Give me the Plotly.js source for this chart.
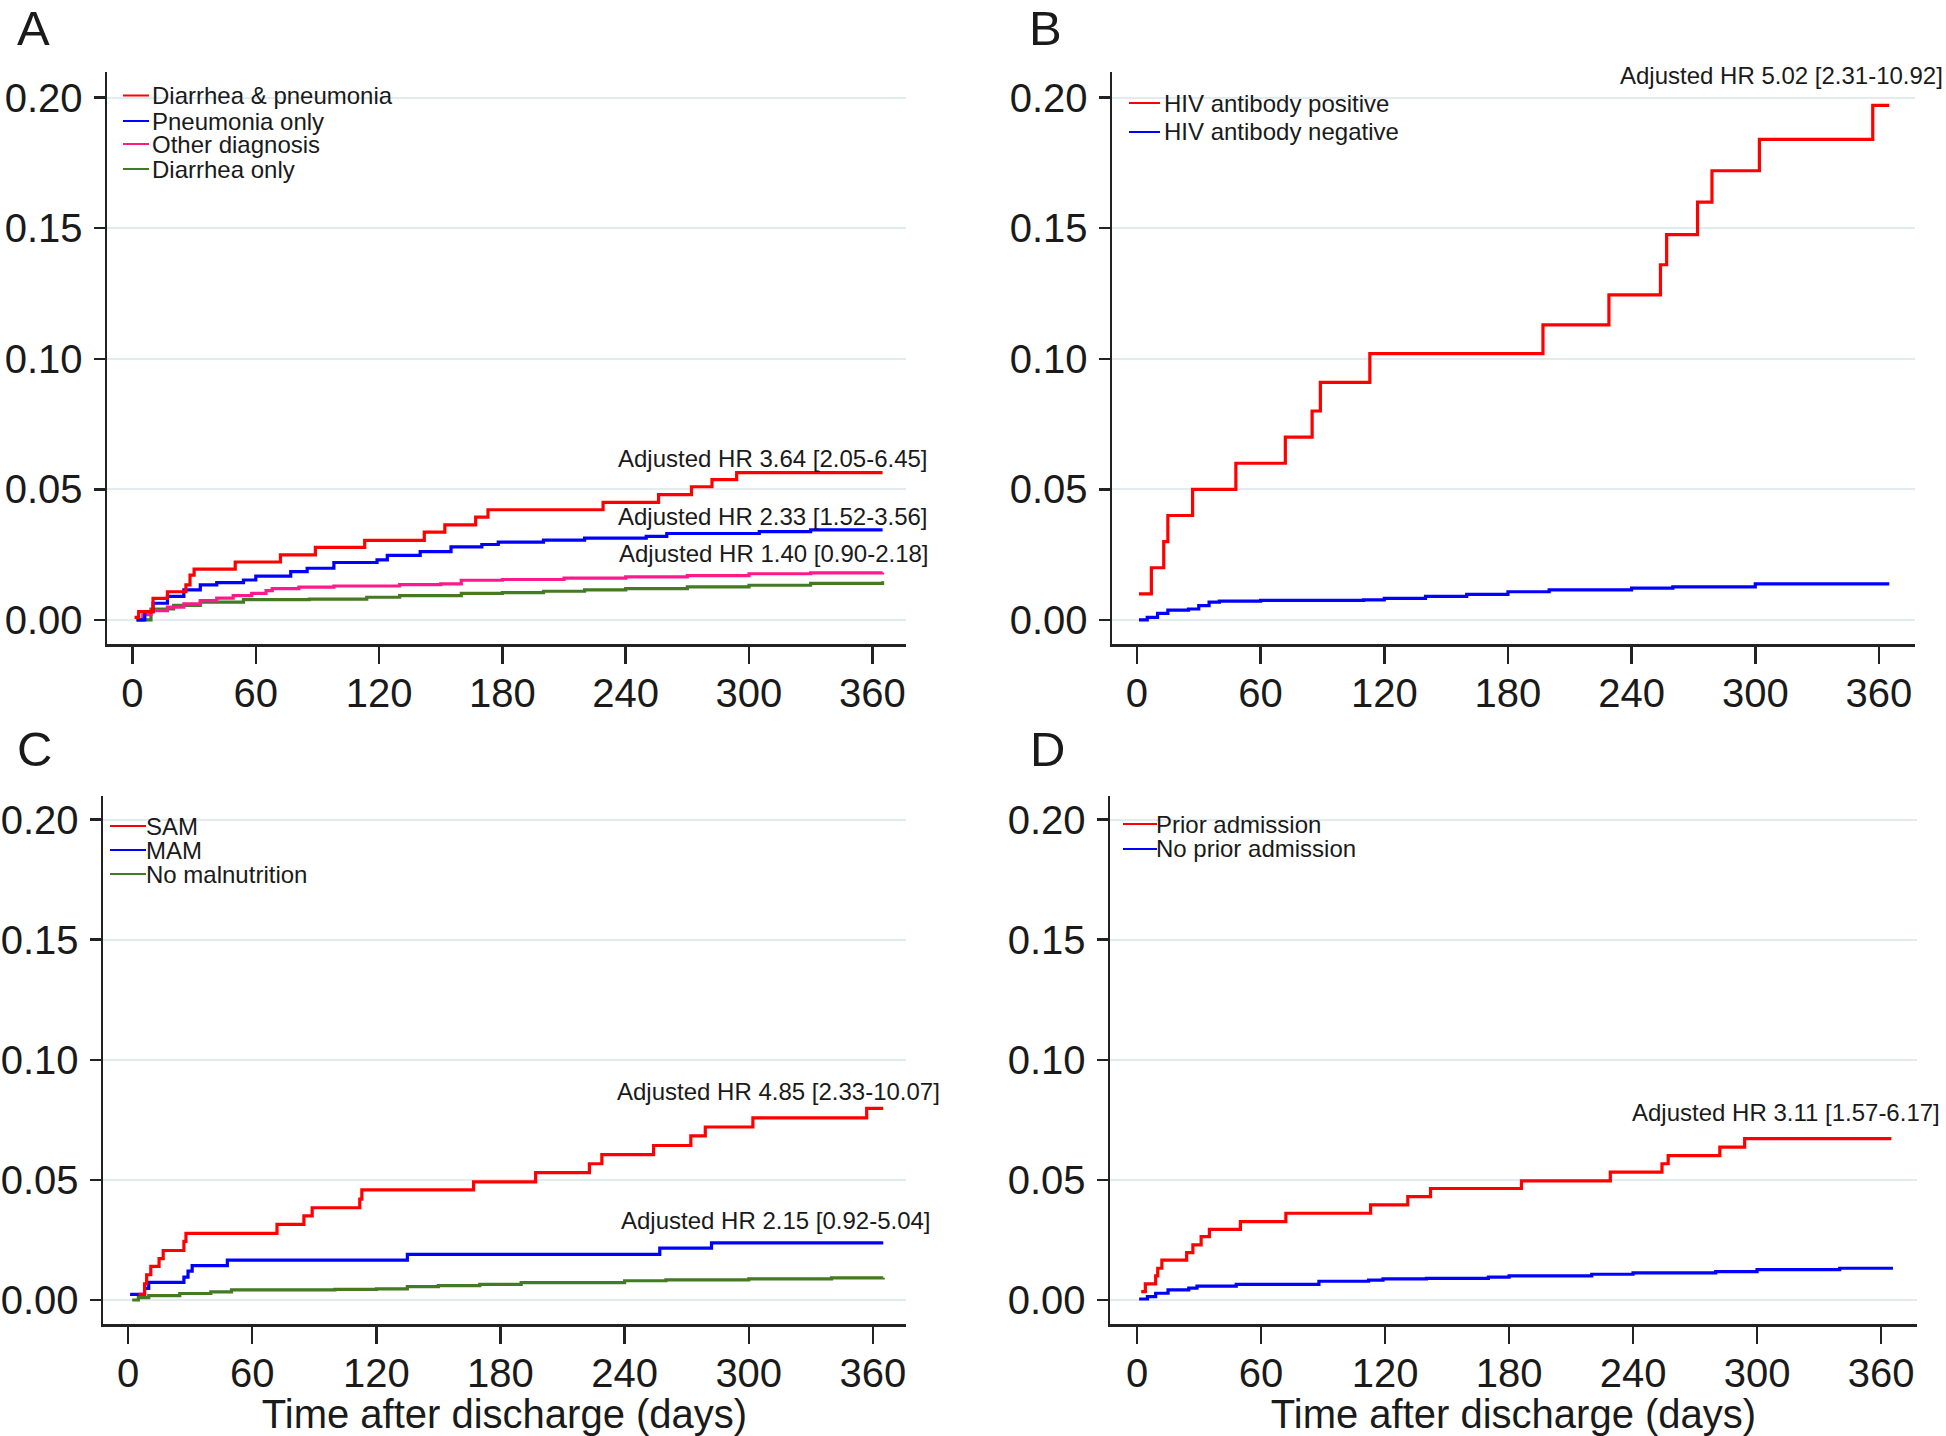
<!DOCTYPE html>
<html>
<head>
<meta charset="utf-8">
<script src="https://cdn.plot.ly/plotly-3.0.1.min.js"></script>
<style>html,body{margin:0;padding:0;background:#fff;}#chart{width:1946px;height:1436px;}</style>
</head>
<body>
<div id="chart"></div>
<script>
// ---------- DATA ----------
var xTicks = [0, 60, 120, 180, 240, 300, 360];
var yTicks = [0, 0.05, 0.10, 0.15, 0.20];
var panelLetters = ["A", "B", "C", "D"];
var xTitle = "Time after discharge (days)";

// Panel A
var aNames = ["Diarrhea & pneumonia", "Pneumonia only", "Other diagnosis", "Diarrhea only"];
var aRedDays = [1, 3, 10, 17, 26, 28, 30, 50, 72, 89, 113, 142, 152, 167, 173, 229, 256, 272, 282, 294, 365];
var aRedVals = [0.001, 0.0032, 0.0083, 0.0108, 0.0134, 0.0172, 0.0195, 0.0222, 0.0249, 0.0278, 0.0305, 0.0336, 0.0364, 0.0394, 0.0422, 0.045, 0.048, 0.051, 0.0537, 0.0564, 0.0564];
var aBlueDays = [2, 6, 10, 17, 25, 33, 41, 54, 60, 77, 85, 98, 119, 124, 140, 155, 170, 178, 200, 220, 250, 260, 305, 330, 365];
var aBlueVals = [0, 0.0032, 0.0064, 0.009, 0.0115, 0.0134, 0.0143, 0.0153, 0.0168, 0.0185, 0.0198, 0.022, 0.023, 0.0247, 0.0262, 0.028, 0.0289, 0.0298, 0.0306, 0.0313, 0.032, 0.0331, 0.0338, 0.0345, 0.0345];
var aPinkDays = [2, 5, 9, 17, 25, 33, 41, 49, 58, 65, 68, 81, 98, 130, 150, 160, 180, 210, 240, 270, 300, 330, 365];
var aPinkVals = [0, 0.002, 0.0036, 0.0049, 0.0062, 0.0074, 0.0084, 0.0093, 0.0102, 0.0112, 0.012, 0.0126, 0.013, 0.0135, 0.0138, 0.0152, 0.0155, 0.016, 0.0165, 0.017, 0.0177, 0.018, 0.0182];
var aGreenDays = [2, 9, 20, 33, 54, 86, 114, 130, 160, 180, 200, 220, 240, 270, 300, 330, 365];
var aGreenVals = [0, 0.0042, 0.0056, 0.0068, 0.0078, 0.008, 0.0087, 0.0093, 0.0102, 0.0105, 0.011, 0.0115, 0.012, 0.0127, 0.0133, 0.014, 0.0148];
var aHR = ["Adjusted HR 3.64 [2.05-6.45]", "Adjusted HR 2.33 [1.52-3.56]", "Adjusted HR 1.40 [0.90-2.18]"];

// Panel B
var bNames = ["HIV antibody positive", "HIV antibody negative"];
var bRedDays = [1, 7, 13, 15, 27, 48, 72, 85, 89, 113, 197, 229, 254, 257, 272, 279, 302, 357, 365];
var bRedVals = [0.01, 0.02, 0.03, 0.04, 0.05, 0.06, 0.07, 0.08, 0.091, 0.102, 0.113, 0.1245, 0.136, 0.1475, 0.16, 0.172, 0.184, 0.197, 0.197];
var bBlueDays = [1, 5, 10, 15, 25, 30, 35, 40, 60, 110, 120, 140, 160, 180, 200, 240, 260, 300, 365];
var bBlueVals = [0, 0.001, 0.0025, 0.0038, 0.0042, 0.0055, 0.0068, 0.0072, 0.0075, 0.0077, 0.0083, 0.009, 0.0098, 0.0108, 0.0115, 0.0122, 0.0127, 0.0138, 0.0138];
var bHR = ["Adjusted HR 5.02 [2.31-10.92]"];

// Panel C
var cNames = ["SAM", "MAM", "No malnutrition"];
var cRedDays = [5, 8, 9, 11, 15, 17, 27, 28, 72, 85, 89, 112, 113, 167, 197, 223, 229, 254, 272, 279, 302, 357, 365];
var cRedVals = [0.0023, 0.0067, 0.0105, 0.014, 0.0172, 0.0206, 0.0244, 0.0277, 0.0315, 0.035, 0.0384, 0.042, 0.0458, 0.0492, 0.053, 0.0567, 0.0605, 0.0643, 0.0683, 0.072, 0.0758, 0.0798, 0.0798];
var cBlueDays = [1, 8, 10, 27, 29, 31, 48, 135, 257, 282, 365];
var cBlueVals = [0.0023, 0.0048, 0.0073, 0.0095, 0.012, 0.0143, 0.0166, 0.019, 0.0216, 0.0238, 0.0238];
var cGreenDays = [2, 5, 10, 25, 40, 50, 100, 120, 135, 150, 170, 190, 240, 260, 300, 340, 365];
var cGreenVals = [0, 0.001, 0.0018, 0.0027, 0.0034, 0.0042, 0.0044, 0.0046, 0.0056, 0.006, 0.0065, 0.0072, 0.008, 0.0084, 0.0088, 0.0092, 0.0093];
var cHR = ["Adjusted HR 4.85 [2.33-10.07]", "Adjusted HR 2.15 [0.92-5.04]"];

// Panel D
var dNames = ["Prior admission", "No prior admission"];
var dRedDays = [2, 4, 9, 10, 12, 24, 27, 31, 35, 50, 72, 113, 131, 142, 186, 229, 254, 257, 282, 294, 365];
var dRedVals = [0.0035, 0.0067, 0.01, 0.0132, 0.0166, 0.0197, 0.0229, 0.0264, 0.0294, 0.0326, 0.0361, 0.0396, 0.043, 0.0464, 0.0496, 0.0532, 0.0567, 0.0601, 0.0636, 0.0672, 0.0672];
var dBlueDays = [1, 5, 9, 15, 25, 29, 48, 88, 112, 119, 140, 170, 180, 220, 240, 280, 300, 340, 365];
var dBlueVals = [0.0004, 0.0014, 0.0028, 0.0042, 0.0049, 0.0058, 0.0065, 0.0078, 0.0083, 0.0088, 0.009, 0.0095, 0.01, 0.0107, 0.0113, 0.0118, 0.0126, 0.0132, 0.0138];
var dHR = ["Adjusted HR 3.11 [1.57-6.17]"];

// ---------- STYLE ----------
var W = 1946, H = 1436;
var FONT = "Liberation Sans, Arial, Helvetica, sans-serif";
var RED = "#ff0000", BLUE = "#0000ff", PINK = "#ff1a8c", GREEN = "#437a22";
var TXT = "#1a1a1a";
function px(x) { return x / W; }
function py(y) { return 1 - y / H; }

function tr(days, vals, color, xa, ya, name) {
  return {x: days, y: vals, type: "scatter", mode: "lines", line: {shape: "hv", color: color, width: 3.2},
          xaxis: xa, yaxis: ya, name: name, showlegend: false, hoverinfo: "skip"};
}

var data = [
  tr(aGreenDays, aGreenVals, GREEN, "x", "y", aNames[3]),
  tr(aPinkDays, aPinkVals, PINK, "x", "y", aNames[2]),
  tr(aBlueDays, aBlueVals, BLUE, "x", "y", aNames[1]),
  tr(aRedDays, aRedVals, RED, "x", "y", aNames[0]),
  tr(bBlueDays, bBlueVals, BLUE, "x2", "y2", bNames[1]),
  tr(bRedDays, bRedVals, RED, "x2", "y2", bNames[0]),
  tr(cGreenDays, cGreenVals, GREEN, "x3", "y3", cNames[2]),
  tr(cBlueDays, cBlueVals, BLUE, "x3", "y3", cNames[1]),
  tr(cRedDays, cRedVals, RED, "x3", "y3", cNames[0]),
  tr(dBlueDays, dBlueVals, BLUE, "x4", "y4", dNames[1]),
  tr(dRedDays, dRedVals, RED, "x4", "y4", dNames[0])
];

function xAxis(domPx, range, anchor, withTitle) {
  var a = {domain: [px(domPx[0]), px(domPx[1])], range: range, anchor: anchor,
    tickvals: xTicks, ticktext: xTicks.map(String), ticks: "outside", ticklen: 17, tickwidth: 2.5, tickcolor: "#222",
    showline: true, linecolor: "#222", linewidth: 2.5, showgrid: false, zeroline: false,
    tickfont: {family: FONT, size: 40, color: TXT}, ticklabelstandoff: -5, fixedrange: true};
  if (withTitle) a.title = {text: xTitle, font: {family: FONT, size: 40, color: TXT}, standoff: 8};
  return a;
}
function yAxis(domPx, range, anchor) {
  return {domain: [py(domPx[1]), py(domPx[0])], range: range, anchor: anchor,
    tickvals: yTicks, ticktext: yTicks.map(function (v) { return v.toFixed(2); }),
    ticks: "outside", ticklen: 11, tickwidth: 2.5, tickcolor: "#222",
    showline: true, linecolor: "#222", linewidth: 2.5, showgrid: true, gridcolor: "#e2ecee", gridwidth: 2,
    zeroline: false, tickfont: {family: FONT, size: 40, color: TXT}, ticklabelstandoff: 3, fixedrange: true};
}

var annotations = [];
function txt(t, xPx, yPx, anchor, size, vanchor) {
  annotations.push({text: t, xref: "paper", yref: "paper", x: px(xPx), y: py(yPx), xanchor: anchor,
    yanchor: vanchor || "middle", borderpad: 0,
    showarrow: false, font: {family: FONT, size: size, color: TXT}});
}
var shapes = [];
function legLine(x0, x1, yPx, color) {
  shapes.push({type: "line", xref: "paper", yref: "paper", x0: px(x0), x1: px(x1), y0: py(yPx), y1: py(yPx),
    line: {color: color, width: 2}});
}

// panel letters
txt(panelLetters[0], 16, 0, "left", 49, "top");
txt(panelLetters[1], 1028, 0, "left", 49, "top");
txt(panelLetters[2], 16, 749, "left", 49);
txt(panelLetters[3], 1029, 749, "left", 49);

// legends
var aCols = [RED, BLUE, PINK, GREEN], aRows = [95.5, 121, 144, 169];
for (var i = 0; i < 4; i++) { legLine(123, 149, aRows[i], aCols[i]); txt(aNames[i], 151, aRows[i], "left", 24); }
var bCols = [RED, BLUE], bRows = [103, 132];
for (var i = 0; i < 2; i++) { legLine(1129, 1160, bRows[i], bCols[i]); txt(bNames[i], 1163, bRows[i], "left", 24); }
var cCols = [RED, BLUE, GREEN], cRows = [826, 850, 874];
for (var i = 0; i < 3; i++) { legLine(110, 146, cRows[i], cCols[i]); txt(cNames[i], 145, cRows[i], "left", 24); }
var dCols = [RED, BLUE], dRows = [824, 849];
for (var i = 0; i < 2; i++) { legLine(1123, 1157, dRows[i], dCols[i]); txt(dNames[i], 1155, dRows[i], "left", 24); }

// HR annotations
txt(aHR[0], 929, 458, "right", 24);
txt(aHR[1], 929, 516, "right", 24);
txt(aHR[2], 930, 554, "right", 24);
txt(bHR[0], 1944, 76, "right", 24);
txt(cHR[0], 941, 1091, "right", 24);
txt(cHR[1], 932, 1220, "right", 24);
txt(dHR[0], 1941, 1112, "right", 24);

var layout = {
  width: W, height: H, margin: {l: 0, r: 0, t: 0, b: 0}, paper_bgcolor: "#fff", plot_bgcolor: "rgba(0,0,0,0)",
  showlegend: false, font: {family: FONT, color: TXT},
  xaxis: xAxis([107, 906], [-12.4, 376.4], "y", false),
  yaxis: yAxis([72, 644], [-0.0092, 0.2098], "x"),
  xaxis2: xAxis([1112, 1915], [-12.1, 377.5], "y2", false),
  yaxis2: yAxis([72, 644], [-0.0092, 0.2098], "x2"),
  xaxis3: xAxis([103, 906], [-12.1, 376.0], "y3", true),
  yaxis3: yAxis([796, 1324], [-0.010, 0.2098], "x3"),
  xaxis4: xAxis([1110, 1917], [-13.1, 377.4], "y4", true),
  yaxis4: yAxis([796, 1324], [-0.010, 0.2098], "x4"),
  annotations: annotations, shapes: shapes
};

Plotly.newPlot("chart", data, layout, {staticPlot: true, displayModeBar: false});
</script>
</body>
</html>
